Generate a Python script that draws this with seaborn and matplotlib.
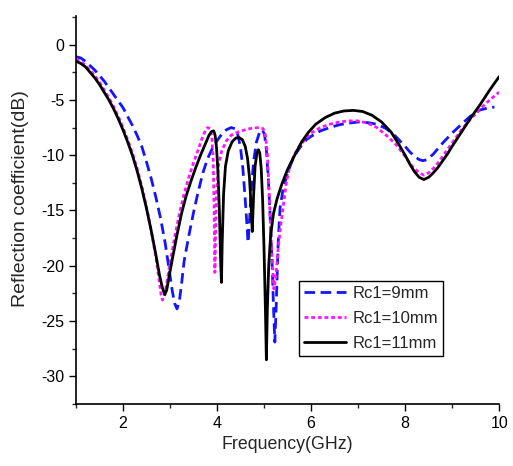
import numpy as np
import pandas as pd
import matplotlib
matplotlib.use('Agg')
import matplotlib.pyplot as plt
from matplotlib.ticker import MultipleLocator
import seaborn as sns

# Rc1 = 9 mm (blue dashed)
freq_9 = [1.0, 1.1, 1.2, 1.3, 1.4, 1.5, 1.6, 1.7, 1.8, 1.9, 2.0, 2.1, 2.2, 2.3, 2.4, 2.5, 2.6,
          2.7, 2.8, 2.9, 2.98, 3.05, 3.1, 3.15, 3.2, 3.25, 3.3, 3.4, 3.5, 3.6, 3.7, 3.8, 3.9,
          4.0, 4.1, 4.2, 4.3, 4.38, 4.44, 4.5, 4.55, 4.6, 4.64, 4.66, 4.69, 4.73, 4.78, 4.84,
          4.9, 4.96, 5.01, 5.05, 5.09, 5.13, 5.17, 5.2, 5.23, 5.26, 5.3, 5.34, 5.4, 5.5, 5.6,
          5.7, 5.8, 5.9, 6.0, 6.2, 6.4, 6.6, 6.8, 7.0, 7.2, 7.4, 7.6, 7.8, 8.0, 8.1, 8.2, 8.3,
          8.38, 8.47, 8.6, 8.8, 9.0, 9.2, 9.38, 9.6, 9.8, 9.9]
s11_9 = [-1.1, -1.2, -1.5, -1.9, -2.3, -2.8, -3.3, -3.9, -4.5, -5.1, -5.7, -6.5, -7.3, -8.2,
         -9.2, -10.6, -12.1, -13.8, -15.7, -18.0, -20.3, -22.3, -23.4, -23.9, -23.2, -21.5,
         -19.6, -17.3, -15.2, -13.3, -11.6, -10.3, -9.4, -8.7, -8.1, -7.7, -7.5, -7.6, -8.1,
         -9.3, -11.2, -14.0, -16.5, -17.9, -16.0, -13.0, -10.5, -8.8, -8.0, -7.7, -8.1, -9.5,
         -12.0, -15.5, -19.5, -23.5, -26.9, -23.5, -18.0, -14.8, -13.2, -11.6, -10.5, -9.7,
         -9.1, -8.6, -8.3, -7.8, -7.5, -7.25, -7.1, -7.0, -7.05, -7.2, -7.6, -8.3, -9.2, -9.7,
         -10.1, -10.4, -10.5, -10.4, -9.9, -8.9, -8.0, -7.2, -6.5, -5.9, -5.7, -5.65]

# Rc1 = 10 mm (magenta dotted)
freq_10 = [1.0, 1.1, 1.2, 1.3, 1.4, 1.5, 1.6, 1.7, 1.8, 1.9, 2.0, 2.1, 2.2, 2.3, 2.4, 2.5, 2.6,
           2.7, 2.76, 2.81, 2.84, 2.88, 2.93, 3.0, 3.1, 3.2, 3.3, 3.4, 3.5, 3.6, 3.68, 3.75, 3.8,
           3.85, 3.89, 3.92, 3.94, 3.955, 3.97, 3.99, 4.03, 4.1, 4.2, 4.3, 4.45, 4.6, 4.75, 4.9,
           4.98, 5.03, 5.07, 5.11, 5.16, 5.21, 5.25, 5.3, 5.35, 5.4, 5.47, 5.55, 5.65, 5.75, 5.85,
           6.0, 6.2, 6.4, 6.6, 6.8, 7.0, 7.2, 7.4, 7.6, 7.8, 8.0, 8.15, 8.3, 8.4, 8.5, 8.6, 8.7,
           8.8, 9.0, 9.2, 9.4, 9.6, 9.8, 10.0]
s11_10 = [-1.3, -1.5, -1.9, -2.3, -2.8, -3.4, -4.1, -4.8, -5.6, -6.5, -7.5, -8.6, -9.8, -11.2,
          -12.8, -14.7, -16.8, -19.2, -21.0, -22.6, -23.1, -22.8, -21.6, -19.8, -17.4, -15.3,
          -13.5, -12.0, -10.7, -9.5, -8.5, -7.8, -7.5, -7.6, -8.3, -10.5, -15.0, -20.6, -17.0,
          -13.5, -11.0, -9.6, -8.7, -8.2, -7.9, -7.7, -7.55, -7.5, -7.6, -8.2, -9.8, -13.5,
          -18.5, -22.1, -21.0, -18.5, -16.5, -14.9, -12.6, -10.9, -9.9, -9.2, -8.7, -8.0, -7.5,
          -7.2, -7.0, -6.9, -6.9, -7.1, -7.5, -8.2, -9.0, -10.1, -11.0, -11.6, -11.8, -11.6,
          -11.2, -10.7, -10.1, -8.9, -7.7, -6.7, -5.8, -5.0, -4.3]

# Rc1 = 11 mm (black solid)
freq_11 = [1.0, 1.1, 1.2, 1.3, 1.4, 1.5, 1.6, 1.7, 1.8, 1.9, 2.0, 2.1, 2.2, 2.3, 2.4, 2.5, 2.6,
           2.7, 2.78, 2.84, 2.89, 2.93, 2.98, 3.05, 3.15, 3.25, 3.35, 3.45, 3.55, 3.65, 3.75,
           3.83, 3.89, 3.93, 3.96, 3.99, 4.02, 4.05, 4.08, 4.095, 4.11, 4.14, 4.18, 4.24, 4.32,
           4.4, 4.47, 4.54, 4.6, 4.65, 4.69, 4.72, 4.75, 4.78, 4.81, 4.85, 4.88, 4.91, 4.94,
           4.97, 5.0, 5.03, 5.05, 5.07, 5.1, 5.14, 5.2, 5.28, 5.38, 5.5, 5.64, 5.8, 5.95, 6.1,
           6.3, 6.5, 6.7, 6.9, 7.1, 7.3, 7.5, 7.7, 7.85, 8.0, 8.1, 8.2, 8.3, 8.4, 8.5, 8.6, 8.7,
           8.8, 8.9, 9.0, 9.2, 9.4, 9.6, 9.8, 10.0]
s11_11 = [-1.5, -1.7, -2.0, -2.5, -3.0, -3.6, -4.3, -5.0, -5.8, -6.7, -7.7, -8.8, -10.0, -11.4,
          -13.0, -14.8, -16.8, -19.0, -20.9, -22.0, -22.6, -22.2, -21.0, -19.4, -17.2, -15.2,
          -13.6, -12.3, -11.1, -10.0, -9.0, -8.2, -7.85, -7.8, -8.2, -9.3, -11.5, -15.0, -20.0,
          -21.5, -18.0, -13.5, -11.0, -9.6, -8.8, -8.45, -8.4, -8.6, -9.2, -10.3, -12.0, -14.2,
          -16.9, -13.5, -11.0, -9.8, -9.5, -9.8, -11.2, -14.0, -18.5, -24.0, -28.5, -24.0,
          -20.0, -17.3, -15.3, -13.9, -12.6, -11.3, -10.1, -8.8, -7.9, -7.2, -6.6, -6.2, -6.0,
          -5.95, -6.05, -6.4, -7.0, -7.9, -8.9, -10.0, -10.8, -11.5, -12.0, -12.2, -12.0, -11.6,
          -11.1, -10.5, -9.9, -9.2, -7.9, -6.6, -5.4, -4.1, -2.9]

series = [
    ('Rc1=9mm', freq_9, s11_9, '#1414ff', (3.8, 2.0)),
    ('Rc1=10mm', freq_10, s11_10, '#ff14ff', (1.4, 1.0)),
    ('Rc1=11mm', freq_11, s11_11, 'black', None),
]

sns.set_style('ticks')
plt.rcParams['font.family'] = ['Liberation Sans', 'DejaVu Sans']
plt.rcParams['axes.unicode_minus'] = False

fig = plt.figure(figsize=(5.13, 4.66), dpi=100)
ax = fig.add_axes([0.148, 0.133, 0.825, 0.833])

for label, fx, fy, color, dash in series:
    df = pd.DataFrame({'freq': fx, 's11': fy})
    line_kw = dict(color=color, linewidth=2.0, label=label)
    if dash is not None:
        line_kw['dashes'] = dash
    sns.lineplot(data=df, x='freq', y='s11', sort=False, estimator=None, ax=ax, **line_kw)

ax.set_xlim(1, 10)
ax.set_ylim(-32.5, 2.6)
ax.xaxis.set_major_locator(MultipleLocator(2))
ax.xaxis.set_minor_locator(MultipleLocator(1))
ax.yaxis.set_major_locator(MultipleLocator(5))
ax.yaxis.set_minor_locator(MultipleLocator(2.5))
ax.tick_params(which='major', direction='out', length=5, width=1, labelsize=11.5, colors='black')
ax.tick_params(which='minor', direction='out', length=3, width=1)
for s in ['top', 'right']:
    ax.spines[s].set_visible(False)
for s in ['left', 'bottom']:
    ax.spines[s].set_linewidth(1.2)
    ax.spines[s].set_color('black')

ax.set_xlabel('Frequency(GHz)', fontsize=12.8, labelpad=4)
ax.set_ylabel('Reflection coefficient(dB)', fontsize=14)
ax.yaxis.set_label_coords(-0.11, 0.53)

leg = ax.legend(loc='lower left', bbox_to_anchor=(0.527, 0.124), fontsize=12,
                handlelength=2.5, handletextpad=0.4, labelspacing=0.6, borderpad=0.3,
                borderaxespad=0, fancybox=False, framealpha=1, edgecolor='black')
leg.get_frame().set_linewidth(1.0)

fig.savefig('out.png', dpi=100)
